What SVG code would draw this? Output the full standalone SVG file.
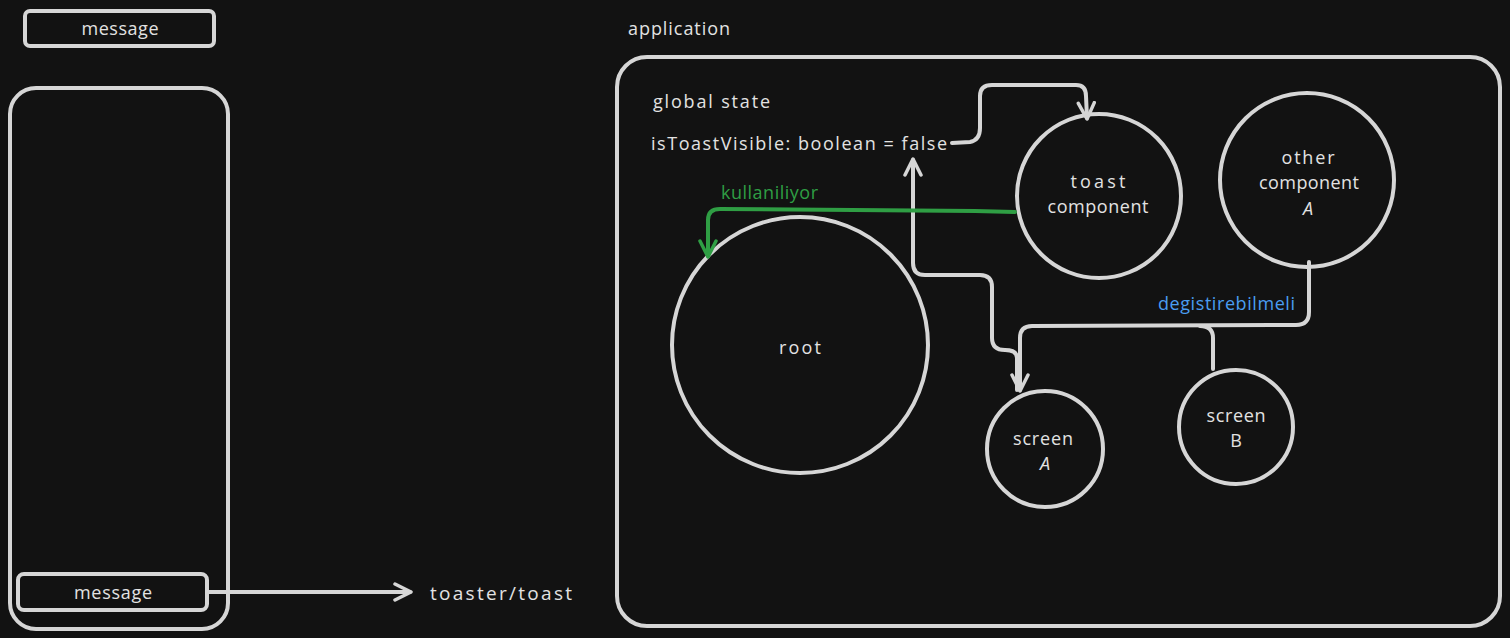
<svg xmlns="http://www.w3.org/2000/svg" width="1510" height="638" viewBox="0 0 1510 638">
<defs>
<style>
.s{fill:none;stroke:#d6d6d6;stroke-width:4;stroke-linecap:round;stroke-linejoin:round}
.n{fill:#121212;stroke:#d6d6d6;stroke-width:4}
.t{font-family:"Open Sans","Liberation Sans",sans-serif;font-size:18px;fill:#e2e2e2;text-anchor:middle;dominant-baseline:central}
.l{text-anchor:start}
.g{fill:none;stroke:#2f9e44;stroke-width:4;stroke-linecap:round;stroke-linejoin:round}
</style>
<marker id="a" viewBox="0 0 20 20" refX="17" refY="10" markerWidth="20" markerHeight="20" markerUnits="userSpaceOnUse" orient="auto">
<path d="M2,2 L18,10 L2,18" fill="none" stroke="#d6d6d6" stroke-width="3.5" stroke-linecap="round" stroke-linejoin="round"/>
</marker>
<marker id="ag" viewBox="0 0 20 20" refX="17" refY="10" markerWidth="20" markerHeight="20" markerUnits="userSpaceOnUse" orient="auto">
<path d="M2,2 L18,10 L2,18" fill="none" stroke="#2f9e44" stroke-width="3.5" stroke-linecap="round" stroke-linejoin="round"/>
</marker>
</defs>
<rect width="1510" height="638" fill="#121212"/>

<g id="msg-top"><rect class="n" x="25" y="11" width="189" height="35" rx="5"/><text class="t" x="120" y="28" textLength="77" lengthAdjust="spacing">message</text></g>
<g id="phone"><rect class="s" x="10" y="88" width="218" height="541" rx="26"/></g>
<g id="msg-bottom"><rect class="n" x="18" y="574" width="189" height="36" rx="6"/><text class="t" x="113" y="592" textLength="78" lengthAdjust="spacing">message</text></g>
<g id="toaster-label"><text class="t l" x="430" y="593" style="font-size:19px" textLength="142" lengthAdjust="spacing">toaster/toast</text></g>

<g id="app-label"><text class="t l" x="628" y="28" textLength="102" lengthAdjust="spacing">application</text></g>
<g id="app"><rect class="s" x="617" y="57" width="883" height="569" rx="30"/></g>
<g id="global-state">
<text class="t l" x="653" y="101" textLength="117" lengthAdjust="spacing">global state</text>
<text class="t l" x="651" y="143" textLength="296" lengthAdjust="spacing">isToastVisible: boolean = false</text>
</g>

<g id="toast"><circle class="n" cx="1099" cy="196" r="82"/><text class="t" x="1098" y="181" textLength="55" lengthAdjust="spacing">toast</text><text class="t" x="1098" y="206" textLength="101" lengthAdjust="spacing">component</text></g>
<g id="other"><circle class="n" cx="1307" cy="180" r="87"/><text class="t" x="1308" y="157" textLength="53" lengthAdjust="spacing">other</text><text class="t" x="1309" y="182" textLength="100" lengthAdjust="spacing">component</text><text class="t" x="1308" y="208" style="font-style:italic">A</text></g>
<g id="root"><circle class="n" cx="800" cy="345" r="128"/><text class="t" x="800" y="347" textLength="42" lengthAdjust="spacing">root</text></g>
<g id="screenA"><circle class="n" cx="1045" cy="449" r="58"/><text class="t" x="1043" y="438" textLength="60" lengthAdjust="spacing">screen</text><text class="t" x="1045" y="463" style="font-style:italic">A</text></g>
<g id="screenB"><circle class="n" cx="1236" cy="427" r="57"/><text class="t" x="1236" y="415" textLength="59" lengthAdjust="spacing">screen</text><text class="t" x="1236" y="440">B</text></g>

<g id="connectors">
<path class="s" d="M209,592 L410,592" marker-end="url(#a)"/>
<path class="s" d="M952,143 L970,142 Q980,140 980,128 L980,96 Q980,85 992,85 L1076,85 Q1086,85 1086,96 L1087,118" marker-end="url(#a)"/>
<path class="s" d="M1017,390 L1017,358 Q1017,350 1005,350 Q992,350 992,338 L992,287 Q992,275 980,275 L925,275 Q913,275 913,263 L913,160" marker-end="url(#a)"/>
<path class="s" d="M1309,262 L1309,312 Q1309,325 1296,325 L1032,326 Q1020,326 1020,338 L1020,390" marker-end="url(#a)"/>
<path class="s" d="M1200,326 Q1213,326 1213,338 L1213,369"/>
<path class="g" d="M1015,212 L975,211 L720,209 Q708,209 708,220 L708,256" marker-end="url(#ag)"/>
<text class="t l" x="721" y="192" style="fill:#2f9e44" textLength="97" lengthAdjust="spacing">kullaniliyor</text>
<text class="t l" x="1158" y="303" style="fill:#4a9df0" textLength="137" lengthAdjust="spacing">degistirebilmeli</text>
</g>
</svg>
